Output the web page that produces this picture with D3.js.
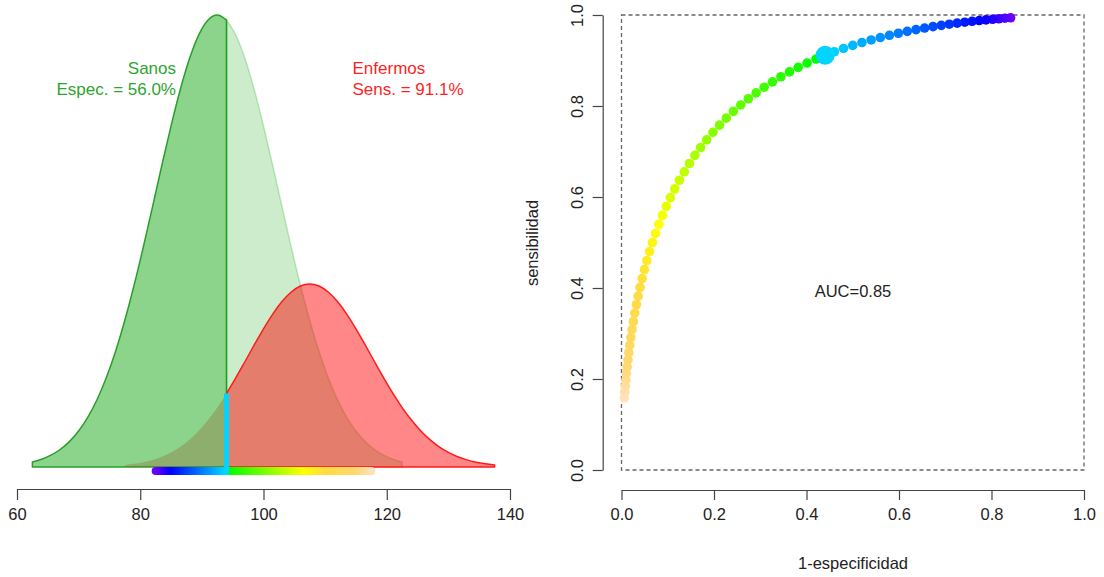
<!DOCTYPE html>
<html>
<head>
<meta charset="utf-8">
<script src="https://cdn.jsdelivr.net/npm/d3@7"></script>
<style>
  html, body { margin: 0; padding: 0; background: #fff; }
  svg { display: block; font-family: "Liberation Sans", Arial, Helvetica, sans-serif; }
</style>
</head>
<body>
<svg id="chart" width="1104" height="577"></svg>
<script>
// ---------------- DATA ----------------
// Density curve of "Sanos" (healthy), relative heights
const sanosX = [62.5,64.0,65.5,67.0,68.5,70.0,71.5,73.0,74.5,76.0,
  77.5,79.0,80.5,82.0,83.5,85.0,86.5,88.0,89.5,91.0,
  92.5,94.0,95.5,97.0,98.5,100.0,101.5,103.0,104.5,106.0,
  107.5,109.0,110.5,112.0,113.5,115.0,116.5,118.0,119.5,121.0,122.5];
const sanosY = [0.0111,0.0172,0.0261,0.0387,0.0561,0.0796,0.1103,0.1494,0.1979,0.2563,
  0.3247,0.4020,0.4868,0.5762,0.6670,0.7548,0.8353,0.9037,0.9560,0.9888,
  1.0000,0.9888,0.9560,0.9037,0.8353,0.7548,0.6670,0.5762,0.4868,0.4020,
  0.3247,0.2563,0.1979,0.1494,0.1103,0.0796,0.0561,0.0387,0.0261,0.0172,0.0111];
// Density curve of "Enfermos" (sick), relative heights
const enfermosX = [77.5,79.0,80.5,82.0,83.5,85.0,86.5,88.0,89.5,91.0,
  92.5,94.0,95.5,97.0,98.5,100.0,101.5,103.0,104.5,106.0,
  107.5,109.0,110.5,112.0,113.5,115.0,116.5,118.0,119.5,121.0,
  122.5,124.0,125.5,127.0,128.5,130.0,131.5,133.0,134.5,136.0,137.5];
const enfermosY = [0.0045,0.0070,0.0106,0.0157,0.0227,0.0322,0.0447,0.0605,0.0801,0.1038,
  0.1315,0.1628,0.1972,0.2334,0.2701,0.3057,0.3383,0.3660,0.3872,0.4005,
  0.4050,0.4005,0.3872,0.3660,0.3383,0.3057,0.2701,0.2334,0.1972,0.1628,
  0.1315,0.1038,0.0801,0.0605,0.0447,0.0322,0.0227,0.0157,0.0106,0.0070,0.0045];

// Cut-off values and resulting ROC points
const thresholds = [82.5,83.0,83.5,84.0,84.5,85.0,85.5,86.0,86.5,87.0,
  87.5,88.0,88.5,89.0,89.5,90.0,90.5,91.0,91.5,92.0,
  92.5,93.0,93.5,94.0,94.5,95.0,95.5,96.0,96.5,97.0,
  97.5,98.0,98.5,99.0,99.5,100.0,100.5,101.0,101.5,102.0,
  102.5,103.0,103.5,104.0,104.5,105.0,105.5,106.0,106.5,107.0,
  107.5,108.0,108.5,109.0,109.5,110.0,110.5,111.0,111.5,112.0,
  112.5,113.0,113.5,114.0,114.5,115.0,115.5,116.0,116.5,117.0,117.5];
const fpr = [0.8413,0.8289,0.8159,0.8023,0.7881,0.7734,0.7580,0.7422,0.7257,0.7088,
  0.6915,0.6736,0.6554,0.6368,0.6179,0.5987,0.5793,0.5596,0.5398,0.5199,
  0.5000,0.4801,0.4602,0.4404,0.4207,0.4013,0.3821,0.3632,0.3446,0.3264,
  0.3085,0.2912,0.2743,0.2578,0.2420,0.2266,0.2119,0.1977,0.1841,0.1711,
  0.1587,0.1469,0.1357,0.1251,0.1151,0.1056,0.0968,0.0885,0.0808,0.0735,
  0.0668,0.0606,0.0548,0.0495,0.0446,0.0401,0.0359,0.0322,0.0287,0.0256,
  0.0228,0.0202,0.0179,0.0158,0.0139,0.0122,0.0107,0.0094,0.0082,0.0071,0.0062];
const tpr = [0.9938,0.9929,0.9918,0.9906,0.9893,0.9878,0.9861,0.9842,0.9821,0.9798,
  0.9772,0.9744,0.9713,0.9678,0.9641,0.9599,0.9554,0.9505,0.9452,0.9394,
  0.9332,0.9265,0.9192,0.9115,0.9032,0.8944,0.8849,0.8749,0.8643,0.8531,
  0.8413,0.8289,0.8159,0.8023,0.7881,0.7734,0.7580,0.7422,0.7257,0.7088,
  0.6915,0.6736,0.6554,0.6368,0.6179,0.5987,0.5793,0.5596,0.5398,0.5199,
  0.5000,0.4801,0.4602,0.4404,0.4207,0.4013,0.3821,0.3632,0.3446,0.3264,
  0.3085,0.2912,0.2743,0.2578,0.2420,0.2266,0.2119,0.1977,0.1841,0.1711,0.1587];
const cutIndex = 23;               // chosen cut-off (94.0)
const especificidad = "56.0%";
const sensibilidad = "91.1%";
const aucLabel = "AUC=0.85";

const leftTicks = [60, 80, 100, 120, 140];
const rocTicks = [0, 0.2, 0.4, 0.6, 0.8, 1.0];

// ---------------- DRAWING ----------------
const svg = d3.select("#chart");
svg.append("rect").attr("width", 1104).attr("height", 577).attr("fill", "#fff");

const FONT = 16.5;
const cut = thresholds[cutIndex];

// colour ramps: below cut-off purple->blue->cyan, above green->yellow->gold->peach
const lowRamp = d3.scaleLinear().domain([82.5, 84.8, cut]).range(["#6a00ff", "#0000ff", "#00dcff"]).interpolate(d3.interpolateRgb);
const highRamp = d3.scaleLinear().domain([94.5, 106.5, 110.0, 115.0, 117.5])
  .range(["#00ff00", "#ffff00", "#ffdc40", "#ffd870", "#ffe2b8"]).interpolate(d3.interpolateRgb);
const colorFor = t => (t <= cut + 1e-9 ? lowRamp(t) : highRamp(t));
const cutColor = "#00d4ff";

// ---- Left panel ----
const xL = d3.scaleLinear().domain([60, 140]).range([17, 510]);
const yL = d3.scaleLinear().domain([0, 1]).range([467, 15]);

const area = d3.area().x(d => xL(d[0])).y0(yL(0)).y1(d => yL(d[1])).curve(d3.curveMonotoneX);
const sanos = sanosX.map((x, i) => [x, sanosY[i]]);
const enfermos = enfermosX.map((x, i) => [x, enfermosY[i]]);
const sanosLeft = sanos.filter(d => d[0] <= cut + 1e-6);
const sanosRight = sanos.filter(d => d[0] >= cut - 1e-6);
const enfLeft = enfermos.filter(d => d[0] <= cut + 1e-6);
const enfRight = enfermos.filter(d => d[0] >= cut - 1e-6);

const gL = svg.append("g");
gL.append("path").attr("d", area(sanosLeft))
  .attr("fill", "rgba(0,160,0,0.45)").attr("stroke", "rgb(40,160,40)").attr("stroke-width", 1.5).attr("stroke-linejoin", "round");
gL.append("path").attr("d", area(enfLeft))
  .attr("fill", "rgba(150,40,0,0.22)").attr("stroke", "none");
gL.append("path").attr("d", area(sanosRight))
  .attr("fill", "rgba(0,160,0,0.2)").attr("stroke", "rgba(0,160,0,0.22)").attr("stroke-width", 1.5);
gL.append("path").attr("d", area(enfRight))
  .attr("fill", "rgba(255,0,0,0.47)").attr("stroke", "#ff1a1a").attr("stroke-width", 1.5).attr("stroke-linejoin", "round");

// colour bar of cut-offs
const defs = svg.append("defs");
const t0 = thresholds[0], t1 = thresholds[thresholds.length - 1];
const grad = defs.append("linearGradient").attr("id", "cbar")
  .attr("gradientUnits", "userSpaceOnUse")
  .attr("x1", xL(t0)).attr("x2", xL(t1))
  .attr("y1", 0).attr("y2", 0);
thresholds.forEach(t => {
  grad.append("stop").attr("offset", (t - t0) / (t1 - t0)).attr("stop-color", colorFor(t));
});
gL.append("line")
  .attr("x1", xL(t0)).attr("x2", xL(t1))
  .attr("y1", yL(0) + 4).attr("y2", yL(0) + 4)
  .attr("stroke", "url(#cbar)").attr("stroke-width", 8).attr("stroke-linecap", "round");

// cut-off vertical line (cyan part below the sick curve)
const enfAtCut = enfermos.find(d => Math.abs(d[0] - cut) < 1e-6)[1];
gL.append("line")
  .attr("x1", xL(cut)).attr("x2", xL(cut))
  .attr("y1", yL(0) + 7).attr("y2", yL(enfAtCut))
  .attr("stroke", cutColor).attr("stroke-width", 5);

// texts
gL.append("text").attr("x", 176).attr("y", 74).attr("text-anchor", "end")
  .attr("font-size", 17).attr("fill", "#2fa52f").text("Sanos");
gL.append("text").attr("x", 176).attr("y", 94.5).attr("text-anchor", "end")
  .attr("font-size", 17).attr("fill", "#2fa52f").text("Espec. = " + especificidad);
gL.append("text").attr("x", 352.5).attr("y", 74).attr("text-anchor", "start")
  .attr("font-size", 17).attr("fill", "#ff1f1f").text("Enfermos");
gL.append("text").attr("x", 352.5).attr("y", 94.5).attr("text-anchor", "start")
  .attr("font-size", 17).attr("fill", "#ff1f1f").text("Sens. = " + sensibilidad);

// x axis left
const axL = svg.append("g").attr("transform", "translate(0,489)")
  .call(d3.axisBottom(xL).tickValues(leftTicks).tickSize(11).tickSizeOuter(0).tickPadding(8).tickFormat(d3.format("d")));
axL.select(".domain").attr("stroke", "#444").attr("stroke-width", 1.2);
axL.selectAll(".tick line").attr("stroke", "#444").attr("stroke-width", 1.2);
axL.selectAll(".tick text").attr("font-size", FONT).attr("fill", "#222").attr("font-family", "Liberation Sans, Arial, sans-serif");

// ---- Right panel (ROC) ----
const xR = d3.scaleLinear().domain([0, 1]).range([621.5, 1084]);
const yR = d3.scaleLinear().domain([0, 1]).range([470, 15]);
const gR = svg.append("g");

gR.append("rect")
  .attr("x", xR(0)).attr("y", yR(1)).attr("width", xR(1) - xR(0)).attr("height", yR(0) - yR(1))
  .attr("fill", "none").attr("stroke", "#666").attr("stroke-width", 1.3).attr("stroke-dasharray", "4,3");

const roc = thresholds.map((t, i) => ({ t, x: fpr[i], y: tpr[i], i }));
gR.selectAll("circle.roc").data(roc).join("circle")
  .attr("class", "roc")
  .attr("cx", d => xR(d.x)).attr("cy", d => yR(d.y)).attr("r", 4.8)
  .attr("fill", d => colorFor(d.t));
gR.append("circle")
  .attr("cx", xR(fpr[cutIndex])).attr("cy", yR(tpr[cutIndex])).attr("r", 9.5)
  .attr("fill", cutColor);

gR.append("text").attr("x", 853).attr("y", 297).attr("text-anchor", "middle")
  .attr("font-size", FONT).attr("fill", "#222").text(aucLabel);

const fmt = d3.format(".1f");
const axRx = svg.append("g").attr("transform", "translate(0,490)")
  .call(d3.axisBottom(xR).tickValues(rocTicks).tickSize(10).tickSizeOuter(0).tickPadding(8).tickFormat(fmt));
const axRy = svg.append("g").attr("transform", "translate(602.7,0)")
  .call(d3.axisLeft(yR).tickValues(rocTicks).tickSize(10).tickSizeOuter(0).tickPadding(0).tickFormat(fmt));
[axRx, axRy].forEach(a => {
  a.select(".domain").attr("stroke", "#444").attr("stroke-width", 1.2);
  a.selectAll(".tick line").attr("stroke", "#444").attr("stroke-width", 1.2);
  a.selectAll(".tick text").attr("font-size", FONT).attr("fill", "#222").attr("font-family", "Liberation Sans, Arial, sans-serif");
});
axRy.selectAll(".tick text")
  .attr("x", null).attr("dy", null)
  .attr("text-anchor", "middle")
  .attr("transform", "translate(-25,0) rotate(-90)")
  .attr("y", 0).attr("dy", "0.35em");

svg.append("text").attr("x", 853).attr("y", 569).attr("text-anchor", "middle")
  .attr("font-size", FONT).attr("fill", "#222").text("1-especificidad");
svg.append("text").attr("transform", "translate(538,243) rotate(-90)").attr("text-anchor", "middle")
  .attr("font-size", FONT).attr("fill", "#222").text("sensibilidad");
</script>
</body>
</html>
